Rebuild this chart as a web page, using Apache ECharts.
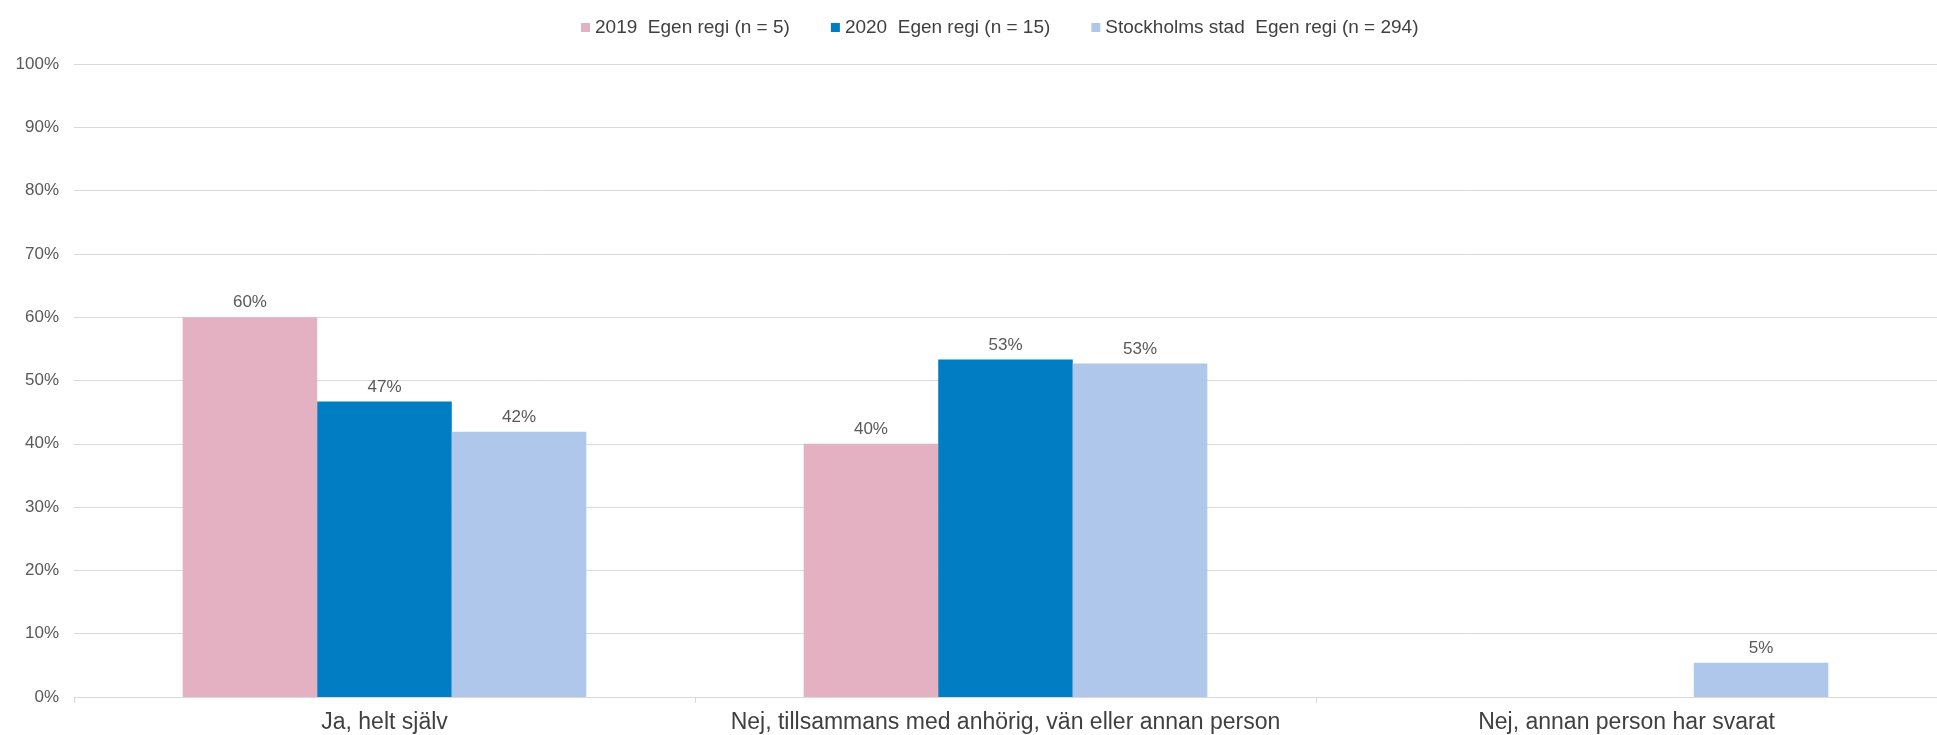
<!DOCTYPE html>
<html>
<head>
<meta charset="utf-8">
<script src="https://cdn.jsdelivr.net/npm/echarts@6/dist/echarts.min.js"></script>
<style>html,body{margin:0;padding:0;background:#fff}#c{width:1937px;height:735px}</style>
</head>
<body>
<div id="c"></div>
<script>
const categories = ['Ja, helt själv', 'Nej, tillsammans med anhörig, vän eller annan person', 'Nej, annan person har svarat'];
const seriesNames = ['2019  Egen regi (n = 5)', '2020  Egen regi (n = 15)', 'Stockholms stad  Egen regi (n = 294)'];
const values2019 = [60, 40, null];
const values2020 = [46.7, 53.3, null];
const valuesStad = [41.9, 52.7, 5.4];
const yTicks = [0, 10, 20, 30, 40, 50, 60, 70, 80, 90, 100];
const colors = ['#E3B1C2', '#007DC3', '#AEC7EB'];

const font = 'Liberation Sans, Arial, sans-serif';
const chart = echarts.init(document.getElementById('c'), null, {renderer: 'canvas'});
const mk = (name, data, color) => ({
  name, type: 'bar', data, barGap: '0%', barCategoryGap: '35%',
  itemStyle: {color},
  label: {show: true, position: 'top', distance: 6, color: '#595959', fontSize: 17, fontFamily: font,
    formatter: p => p.value == null ? '' : Math.round(p.value) + '%'}
});
chart.setOption({
  animation: false,
  color: colors,
  legend: {
    top: 13, left: 576, itemWidth: 9, itemHeight: 9, itemGap: 41,
    icon: 'rect',
    textStyle: {color: '#404040', fontSize: 19, fontFamily: font},
    data: seriesNames
  },
  grid: {left: 74, right: -19, top: 64, bottom: 38, containLabel: false},
  xAxis: {
    type: 'category', data: categories,
    axisLine: {lineStyle: {color: '#D9D9D9', width: 1}},
    axisTick: {show: true, length: 6, lineStyle: {color: '#D9D9D9'}},
    axisLabel: {color: '#404040', fontSize: 23, fontFamily: font, margin: 14, interval: 0, hideOverlap: false}
  },
  yAxis: {
    type: 'value', min: 0, max: 100, interval: 10,
    axisLine: {show: false}, axisTick: {show: false},
    splitLine: {lineStyle: {color: '#D9D9D9', width: 1}},
    axisLabel: {color: '#595959', fontSize: 17, fontFamily: font, margin: 15,
      formatter: v => yTicks.includes(v) ? v + '%' : ''}
  },
  series: [
    mk(seriesNames[0], values2019, colors[0]),
    mk(seriesNames[1], values2020, colors[1]),
    mk(seriesNames[2], valuesStad, colors[2])
  ]
});
</script>
</body>
</html>
